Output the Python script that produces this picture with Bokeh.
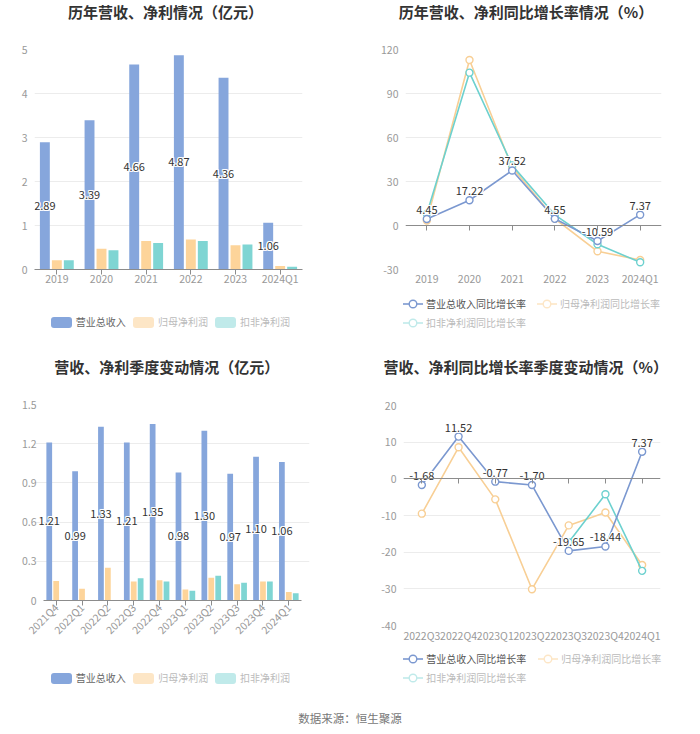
import math
from bokeh.plotting import figure
from bokeh.models import (ColumnDataSource, FactorRange, Range1d, FixedTicker,
                          CategoricalAxis, CustomJSTickFormatter, Div)
from bokeh.transform import dodge
from bokeh.layouts import column, row
from bokeh.core.properties import value
from bokeh.embed import file_html
from bokeh.resources import INLINE

FONT = "Noto Sans CJK SC"
nan = float("nan")

# ---------------- data ----------------
years = ["2019", "2020", "2021", "2022", "2023", "2024Q1"]
year_revenue = [2.89, 3.39, 4.66, 4.87, 4.36, 1.06]
year_net_profit = [0.21, 0.47, 0.65, 0.68, 0.55, 0.08]
year_deducted = [0.21, 0.44, 0.60, 0.65, 0.57, 0.06]

year_rev_growth = [4.45, 17.22, 37.52, 4.55, -10.59, 7.37]
year_np_growth = [3.4, 112.8, 39.5, 4.6, -17.6, -23.5]
year_ded_growth = [8.0, 104.2, 41.0, 7.3, -12.8, -25.1]

quarters = ["2021Q4", "2022Q1", "2022Q2", "2022Q3", "2022Q4",
            "2023Q1", "2023Q2", "2023Q3", "2023Q4", "2024Q1"]
q_revenue = [1.21, 0.99, 1.33, 1.21, 1.35, 0.98, 1.30, 0.97, 1.10, 1.06]
q_net_profit = [0.15, 0.09, 0.25, 0.145, 0.155, 0.085, 0.175, 0.125, 0.145, 0.065]
q_deducted = [nan, nan, nan, 0.17, 0.145, 0.075, 0.19, 0.135, 0.145, 0.055]

growth_quarters = ["2022Q3", "2022Q4", "2023Q1", "2023Q2", "2023Q3", "2023Q4", "2024Q1"]
q_rev_growth = [-1.68, 11.52, -0.77, -1.70, -19.65, -18.44, 7.37]
q_np_growth = [-9.5, 8.6, -5.6, -30.1, -12.7, -9.2, -23.5]
q_ded_growth = [nan, nan, nan, nan, -17.3, -4.2, -25.1]

yticks_year_bar = [0, 1, 2, 3, 4, 5]
yticks_year_growth = [-30, 0, 30, 60, 90, 120]
yticks_q_bar = [0, 0.3, 0.6, 0.9, 1.2, 1.5]
yticks_q_growth = [-40, -30, -20, -10, 0, 10, 20]

series_bar = ["营业总收入", "归母净利润", "扣非净利润"]
series_growth = ["营业总收入同比增长率", "归母净利润同比增长率", "扣非净利润同比增长率"]

titles = ["历年营收、净利情况（亿元）", "历年营收、净利同比增长率情况（%）",
          "营收、净利季度变动情况（亿元）", "营收、净利同比增长率季度变动情况（%）"]
source_text = "数据来源：恒生聚源"

# ---------------- style ----------------
C_REV = "#86a6dc"
C_NP = "#fdd49a"
C_DED = "#7fd5d3"
L_REV = "#7b98d0"
L_NP = "#f8cf95"
L_DED = "#6dd1cf"
FADE_NP = "#fde6c6"
FADE_DED = "#c0eaea"
AXIS_TXT = "#999999"
GRID = "#ececec"
W = 350
TITLE_H = 30

tick_fmt = "return (Math.round(tick*10)/10).toString()"


def title_div(text, cx, cy):
    html = ('<div style="position:relative;width:%dpx;height:%dpx;">'
            '<div style="position:absolute;left:%.1fpx;width:320px;top:%.1fpx;height:20px;'
            'line-height:20px;text-align:center;white-space:nowrap;font-family:\'%s\';'
            'font-size:15px;font-weight:bold;color:#333333;">%s</div></div>'
            % (W, TITLE_H, cx - 160, cy - 10, FONT, text))
    return Div(text=html, width=W, height=TITLE_H, margin=(0, 0, 0, 0))


def legend_div(h, items):
    parts = []
    for kind, color, label, tcolor, x, cy in items:
        if kind == "bar":
            icon = ('<span style="position:absolute;left:%.1fpx;top:%.1fpx;width:21px;height:11px;'
                    'border-radius:3px;background:%s;"></span>' % (x, cy - 5.5, color))
            tx = x + 25
        else:
            icon = ('<svg style="position:absolute;left:%.1fpx;top:%.1fpx;" width="20" height="12">'
                    '<line x1="0" y1="6" x2="20" y2="6" stroke="%s" stroke-width="1.6"/>'
                    '<circle cx="10" cy="6" r="3.8" fill="white" stroke="%s" stroke-width="1.4"/>'
                    '</svg>' % (x, cy - 6, color, color))
            tx = x + 23
        text = ('<span style="position:absolute;left:%.1fpx;top:%.1fpx;height:14px;line-height:14px;'
                'white-space:nowrap;font-family:\'%s\';font-size:10px;color:%s;">%s</span>'
                % (tx, cy - 7, FONT, tcolor, label))
        parts.append(icon + text)
    html = ('<div style="position:relative;width:%dpx;height:%dpx;">%s</div>'
            % (W, h, "".join(parts)))
    return Div(text=html, width=W, height=h, margin=(0, 0, 0, 0))


def main_fig(cats, ymin, ymax, yticks, h, L, R, T, B, pad, ystandoff):
    xr = FactorRange(*cats, range_padding=pad, range_padding_units="absolute")
    p = figure(width=W, height=h, x_range=xr, y_range=Range1d(ymin, ymax),
               output_backend="svg", toolbar_location=None,
               min_border_left=L, min_border_right=R, min_border_top=T, min_border_bottom=B)
    p.outline_line_color = None
    p.background_fill_color = "white"
    p.border_fill_color = "white"
    p.xgrid.grid_line_color = None
    p.ygrid.grid_line_color = GRID
    p.ygrid.ticker = FixedTicker(ticks=yticks)
    p.ygrid.bounds = (0, len(cats))
    ya = p.yaxis[0]
    ya.ticker = FixedTicker(ticks=yticks)
    ya.formatter = CustomJSTickFormatter(code=tick_fmt)
    ya.axis_line_color = None
    ya.major_tick_line_color = None
    ya.major_tick_out = 0
    ya.minor_tick_line_color = None
    ya.major_label_standoff = ystandoff
    ya.major_label_text_color = AXIS_TXT
    ya.major_label_text_font = FONT
    ya.major_label_text_font_size = "10.5px"
    xa = p.xaxis[0]
    xa.major_label_text_color = AXIS_TXT
    xa.major_label_text_font = FONT
    xa.major_label_text_font_size = "10.5px"
    xa.minor_tick_line_color = None
    xa.bounds = (0, len(cats))
    return p


def halo_text(p, x, y, src, y_offset, baseline):
    for dx, dy in ((-1, -1), (-1, 0), (-1, 1), (0, -1), (0, 1), (1, -1), (1, 0), (1, 1)):
        p.text(x=x, y=y, text="lab", source=src, x_offset=dx, y_offset=y_offset + dy,
               text_align="center", text_baseline=baseline, text_font=value(FONT),
               text_font_size="11px", text_color="white")
    p.text(x=x, y=y, text="lab", source=src, y_offset=y_offset,
           text_align="center", text_baseline=baseline, text_font=value(FONT),
           text_font_size="11px", text_color="#333333")


def bar_panel(cats, rev, npf, ded, yticks, ymax, main_h, L, R, T, B, pad, ystandoff,
              title, title_c, leg_h, leg_cy, leg_xs, rotate, standoff):
    td = title_div(title, *title_c)
    p = main_fig(cats, 0, ymax, yticks, main_h, L, R, T, B, pad, ystandoff)
    xa = p.xaxis[0]
    xa.axis_line_color = "#8c8c8c"
    xa.major_tick_line_color = "#8c8c8c"
    xa.major_tick_out = 5
    xa.major_tick_in = 0
    xa.major_label_standoff = standoff
    if rotate:
        xa.major_label_orientation = math.pi / 4
    src = ColumnDataSource(dict(cat=cats, rev=rev, npf=npf, ded=ded,
                                mid=[v / 2 for v in rev], lab=["%.2f" % v for v in rev]))
    off = 0.268
    w = 0.222
    p.vbar(x=dodge("cat", -off, range=p.x_range), top="rev", width=w, source=src,
           fill_color=C_REV, line_color=None)
    p.vbar(x=dodge("cat", 0, range=p.x_range), top="npf", width=w, source=src,
           fill_color=C_NP, line_color=None)
    p.vbar(x=dodge("cat", off, range=p.x_range), top="ded", width=w, source=src,
           fill_color=C_DED, line_color=None)
    halo_text(p, dodge("cat", -off, range=p.x_range), "mid", src, 0, "middle")
    ld = legend_div(leg_h, [
        ("bar", C_REV, series_bar[0], "#666666", leg_xs[0], leg_cy),
        ("bar", FADE_NP, series_bar[1], "#bbbbbb", leg_xs[1], leg_cy),
        ("bar", FADE_DED, series_bar[2], "#bbbbbb", leg_xs[2], leg_cy),
    ])
    return column(td, p, ld, spacing=0)


def line_panel(cats, rev, npf, ded, yticks, ymin, ymax, main_h, L, R, T, B, title, title_c,
               leg_h, leg_rows, leg_xs, standoff):
    td = title_div(title, *title_c)
    p = main_fig(cats, ymin, ymax, yticks, main_h, L, R, T, B, 0, 7)
    xa = p.xaxis[0]
    xa.axis_line_color = None
    xa.major_tick_line_color = None
    xa.major_tick_out = 0
    xa.major_tick_in = 0
    xa.major_label_standoff = standoff
    zero = CategoricalAxis(fixed_location=0, axis_line_color="#8c8c8c",
                           major_tick_line_color="#8c8c8c", major_tick_out=5, major_tick_in=0,
                           minor_tick_line_color=None, major_label_standoff=0,
                           formatter=CustomJSTickFormatter(code="return ''"))
    p.add_layout(zero, "below")
    src = ColumnDataSource(dict(cat=cats, rev=rev, npf=npf, ded=ded,
                                lab=["%.2f" % v for v in rev]))
    for col, c in (("npf", L_NP), ("ded", L_DED), ("rev", L_REV)):
        p.line(x="cat", y=col, source=src, line_color=c, line_width=1.6)
        p.scatter(x="cat", y=col, source=src, size=7, fill_color="white", line_color=c,
                  line_width=1.4)
    halo_text(p, "cat", "rev", src, -5, "bottom")
    ld = legend_div(leg_h, [
        ("line", L_REV, series_growth[0], "#555555", leg_xs[0], leg_rows[0]),
        ("line", FADE_NP, series_growth[1], "#bbbbbb", leg_xs[1], leg_rows[0]),
        ("line", FADE_DED, series_growth[2], "#bbbbbb", leg_xs[0], leg_rows[1]),
    ])
    return column(td, p, ld, spacing=0)


# panel TL: title 0-30, main 30-295 (frame 49..269), legend 295-355
tl = bar_panel(years, year_revenue, year_net_profit, year_deducted, yticks_year_bar, 5,
               265, 34, 48, 19, 26, 0, 7, titles[0], (165.5, 12.3), 60, 27,
               (50.7, 133, 215), False, -4)
# panel TR: title 0-30, main 30-290 (frame 49..269), legend 290-355
tr = line_panel(years, year_rev_growth, year_np_growth, year_ded_growth, yticks_year_growth,
                -30, 120, 260, 55, 39, 19, 21, titles[1], (176, 12.3), 65, (14, 32.7),
                (53, 187), 1)
# panel BL: title 0-30, main 30-290 (bands 43..301, frame padded 35..309), legend 290-355
bl = bar_panel(quarters, q_revenue, q_net_profit, q_deducted, yticks_q_bar, 1.5,
               260, 35, 41, 19, 44, 0.3, -1, titles[2], (166.7, 11.7), 65, 33.3,
               (50.7, 133.3, 215), True, 0)
# panel BR: title 0-30, main 30-290 (frame 50..270), legend 290-355
br = line_panel(growth_quarters, q_rev_growth, q_np_growth, q_ded_growth, yticks_q_growth,
                -40, 20, 260, 53, 40, 20, 20, titles[3], (175.8, 11.7), 65, (14.3, 33.3),
                (53.3, 188.3), 2)

footer = Div(text=source_text, width=700, height=24, margin=(0, 0, 0, 0),
             styles={"text-align": "center", "font-size": "11.5px", "color": "#777777",
                     "font-family": FONT, "line-height": "16px", "width": "700px"})

layout = column(row(tl, tr, spacing=0), row(bl, br, spacing=0), footer, spacing=0)
open("out.html", "w").write(file_html(layout, INLINE))
